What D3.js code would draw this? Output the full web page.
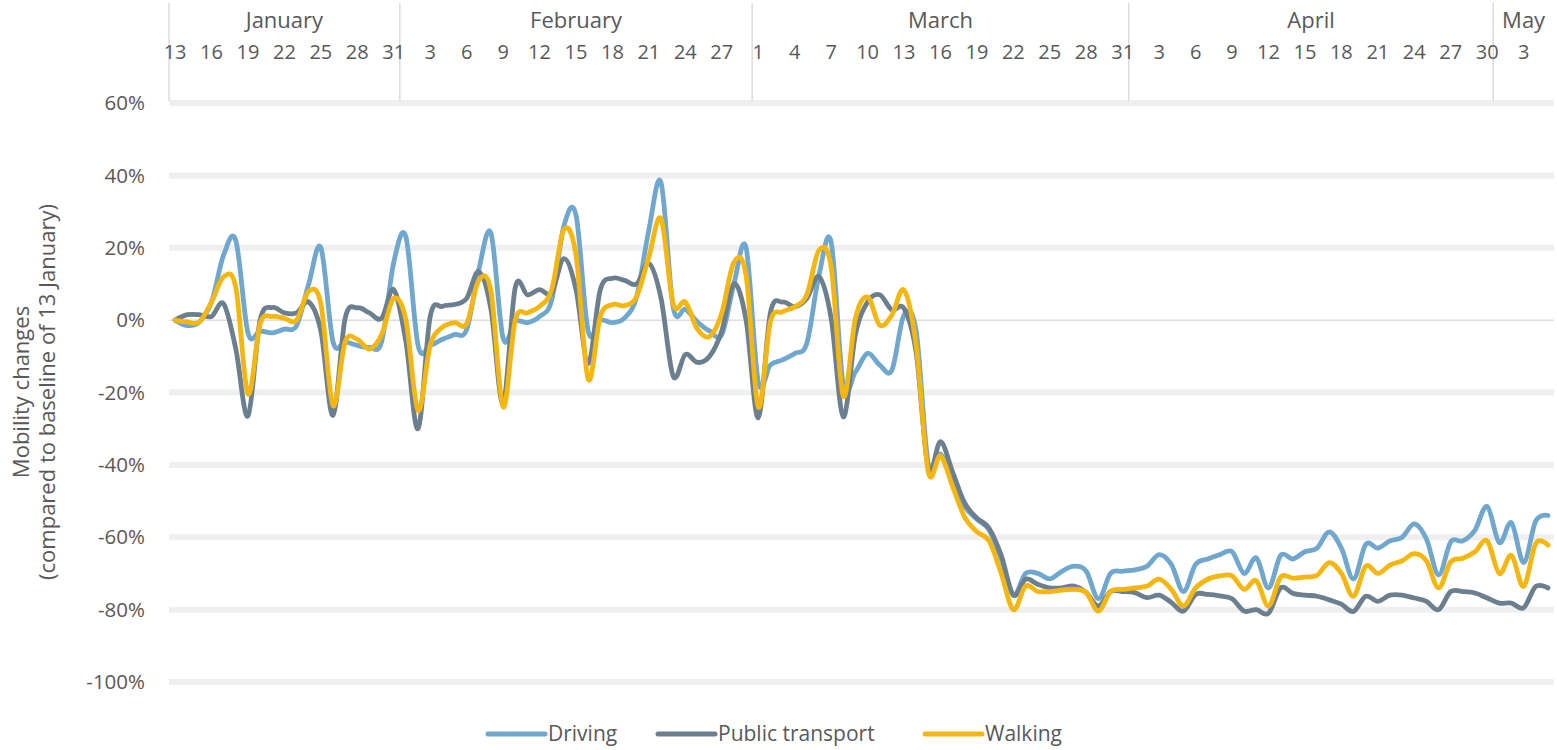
<!DOCTYPE html>
<html>
<head>
<meta charset="utf-8">
<script src="https://cdn.jsdelivr.net/npm/d3@7"></script>
<style>
  html, body { margin: 0; padding: 0; background: #ffffff; }
  svg text { font-family: "Open Sans", "DejaVu Sans", sans-serif; fill: #595959; }
</style>
</head>
<body>
<svg id="chart" width="1557" height="750"></svg>
<script>
// ---- Data ----
const days = [13,14,15,16,17,18,19,20,21,22,23,24,25,26,27,28,29,30,31,
  1,2,3,4,5,6,7,8,9,10,11,12,13,14,15,16,17,18,19,20,21,22,23,24,25,26,27,28,29,
  1,2,3,4,5,6,7,8,9,10,11,12,13,14,15,16,17,18,19,20,21,22,23,24,25,26,27,28,29,30,31,
  1,2,3,4,5,6,7,8,9,10,11,12,13,14,15,16,17,18,19,20,21,22,23,24,25,26,27,28,29,30,
  1,2,3,4,5];
const monthNames = ["January", "February", "March", "April", "May"];
const monthLengths = [19, 29, 31, 30, 5];
const dayTickLabels = ["13","16","19","22","25","28","31","3","6","9","12","15","18","21","24","27",
  "1","4","7","10","13","16","19","22","25","28","31","3","6","9","12","15","18","21","24","27","30","3"];
const yTickValues = [60, 40, 20, 0, -20, -40, -60, -80, -100];
const seriesNames = ["Driving", "Public transport", "Walking"];

const driving = [0,-1.5,-0.5,5,18,22,-3.5,-3,-3.5,-2.5,-1.5,10,20,-6,-6,-7,-7.5,-6,16,23,-7,-7,
  -5.3,-4,-2.6,14,24,-5,-0.3,-0.7,1,5.5,26,29,-3,0,-0.7,0.6,6.6,25,38,3.5,3,-0.5,-3,-4,
  10,20,-17,-12.4,-11,-9.2,-6.4,12.4,21.6,-18,-14.3,-9.2,-12.4,-13.8,1.4,-3,-40,-37,-44,-51.5,-55,-58,-66,
  -76,-70,-70,-71.5,-69.4,-68,-69.4,-77,-70,-69.4,-69,-68,-64.8,-67.5,-75,-67.5,-66,-64.8,-64,-70,-65.7,
  -74,-65,-66,-64,-63,-58.5,-63,-71.5,-62,-63,-61,-60,-56.3,-60.5,-70.4,-61.3,-61,-58,-51.5,-61.5,-56,-67,-55.5,-54];
const publicTransport = [0,1.5,1.5,1,4.5,-8,-26.5,0,3.5,2,2,5,-3,-26.3,0.5,3.4,2,0.5,8.4,-6,-30,1,
  3.8,4.3,6,13.4,3,-23,9,7,8.4,7.5,17,8.5,-12,8.4,11.6,11,10,15.7,6,-15.5,-9.5,-11.7,-10,-3,
  10,0,-27,2,5,3.7,6,12,0.5,-26.7,-4,5,7,2.8,3.2,-9,-41,-33.6,-42,-50.6,-54.7,-57.5,-65,
  -76,-71.6,-73,-74,-74,-73.5,-75.3,-79,-75,-75,-75.3,-76.7,-76,-78,-80.4,-75.8,-75.8,-76.2,-77,-80.4,-80,
  -81,-74,-75.5,-76,-76.3,-77.3,-78.5,-80.5,-76.3,-77.7,-76,-76,-76.8,-77.7,-80,-75,-75,-75.4,-76.8,-78.2,-78.2,-79.5,-73.6,-74];
const walking = [0,-0.5,-0.5,5,12,9,-20.4,-1,1,0.5,0,8,4.5,-23.6,-6,-5.3,-8,-4,6,0,-25,-7,
  -2,-0.7,-1,11,8,-24,0,2,3.8,8.4,25,18,-16.3,1,4.3,4,6.6,17.5,28,4.5,5,-2.5,-4.5,2,
  16,12.4,-24,-0.5,2.3,3.7,7,19.3,14.7,-21,0.5,6.4,-1.4,1.4,8.3,-7,-42,-37.5,-46,-54.5,-58.5,-61,-70,
  -80,-73.5,-75,-75,-74.6,-74.4,-75.3,-80.4,-75,-74.4,-74,-73.5,-71.6,-74.4,-79,-74,-71.6,-70.7,-70.7,-74.4,-72,
  -79,-71,-71.3,-71,-70.5,-67,-70,-76.3,-68,-70,-67.7,-66.5,-64.5,-66.5,-74,-66.8,-65.8,-64,-61,-70,-65,-73.6,-61.7,-62.2];

const colors = ["#6fa7cf", "#6c7f8f", "#f5b70f"];
const seriesData = [driving, publicTransport, walking];

// ---- Layout ----
const svg = d3.select("#chart");
const plotLeft = 169, plotRight = 1554, plotTop = 103, plotBottom = 682;

const x = d3.scaleBand().domain(d3.range(days.length)).range([plotLeft, plotRight]).padding(0);
const cx = i => x(i) + x.bandwidth() / 2;
const y = d3.scaleLinear().domain([-100, 60]).range([plotBottom, plotTop]);

// gridlines
svg.append("g").selectAll("line").data(yTickValues).join("line")
  .attr("x1", plotLeft).attr("x2", plotRight)
  .attr("y1", d => y(d)).attr("y2", d => y(d))
  .attr("stroke", d => d === 0 ? "#dedede" : "#efefef")
  .attr("stroke-width", d => d === 0 ? 1.5 : 6);

// y tick labels
svg.append("g").selectAll("text").data(yTickValues).join("text")
  .attr("x", 145).attr("y", d => y(d)).attr("dy", "0.35em")
  .attr("text-anchor", "end").attr("font-size", 20.5)
  .text(d => d + "%");

// y axis title
const title = svg.append("text")
  .attr("transform", `translate(0, 392) rotate(-90)`)
  .attr("text-anchor", "middle").attr("font-size", 22);
title.append("tspan").attr("x", 0).attr("y", 29).text("Mobility changes");
title.append("tspan").attr("x", 0).attr("y", 55).text("(compared to baseline of 13 January)");

// top header: month separators and labels
const monthStarts = [];
let acc = 0;
monthLengths.forEach(n => { monthStarts.push(acc); acc += n; });
const header = svg.append("g");
header.selectAll("line.sep").data(monthStarts).join("line")
  .attr("class", "sep")
  .attr("x1", d => x(d)).attr("x2", d => x(d))
  .attr("y1", 3).attr("y2", 101)
  .attr("stroke", "#dcdcdc").attr("stroke-width", 1.5);
header.selectAll("text.month").data(monthNames).join("text")
  .attr("class", "month")
  .attr("x", (d, i) => (x(monthStarts[i]) + (i < monthNames.length - 1 ? x(monthStarts[i + 1]) : plotRight)) / 2)
  .attr("y", 20).attr("dy", "0.35em").attr("text-anchor", "middle").attr("font-size", 22)
  .text(d => d);
header.selectAll("text.day").data(dayTickLabels).join("text")
  .attr("class", "day")
  .attr("x", (d, i) => cx(i * 3))
  .attr("y", 52).attr("dy", "0.35em").attr("text-anchor", "middle").attr("font-size", 20)
  .text(d => d);

// lines
const line = d3.line().x((d, i) => cx(i)).y(d => y(d)).curve(d3.curveCardinal.tension(0));
svg.append("g").selectAll("path").data(seriesData).join("path")
  .attr("d", d => line(d))
  .attr("fill", "none")
  .attr("stroke", (d, i) => colors[i])
  .attr("stroke-width", 4.8)
  .attr("stroke-linejoin", "round").attr("stroke-linecap", "round");

// legend
const legendX = [488, 658, 925];
const lg = svg.append("g").selectAll("g").data(seriesNames).join("g")
  .attr("transform", (d, i) => `translate(${legendX[i]}, 734)`);
lg.append("line").attr("x1", 0).attr("x2", 57).attr("y1", 0).attr("y2", 0)
  .attr("stroke", (d, i) => colors[i]).attr("stroke-width", 5).attr("stroke-linecap", "round");
lg.append("text").attr("x", 60).attr("y", 0).attr("dy", "0.35em").attr("font-size", 21).text(d => d);
</script>
</body>
</html>
